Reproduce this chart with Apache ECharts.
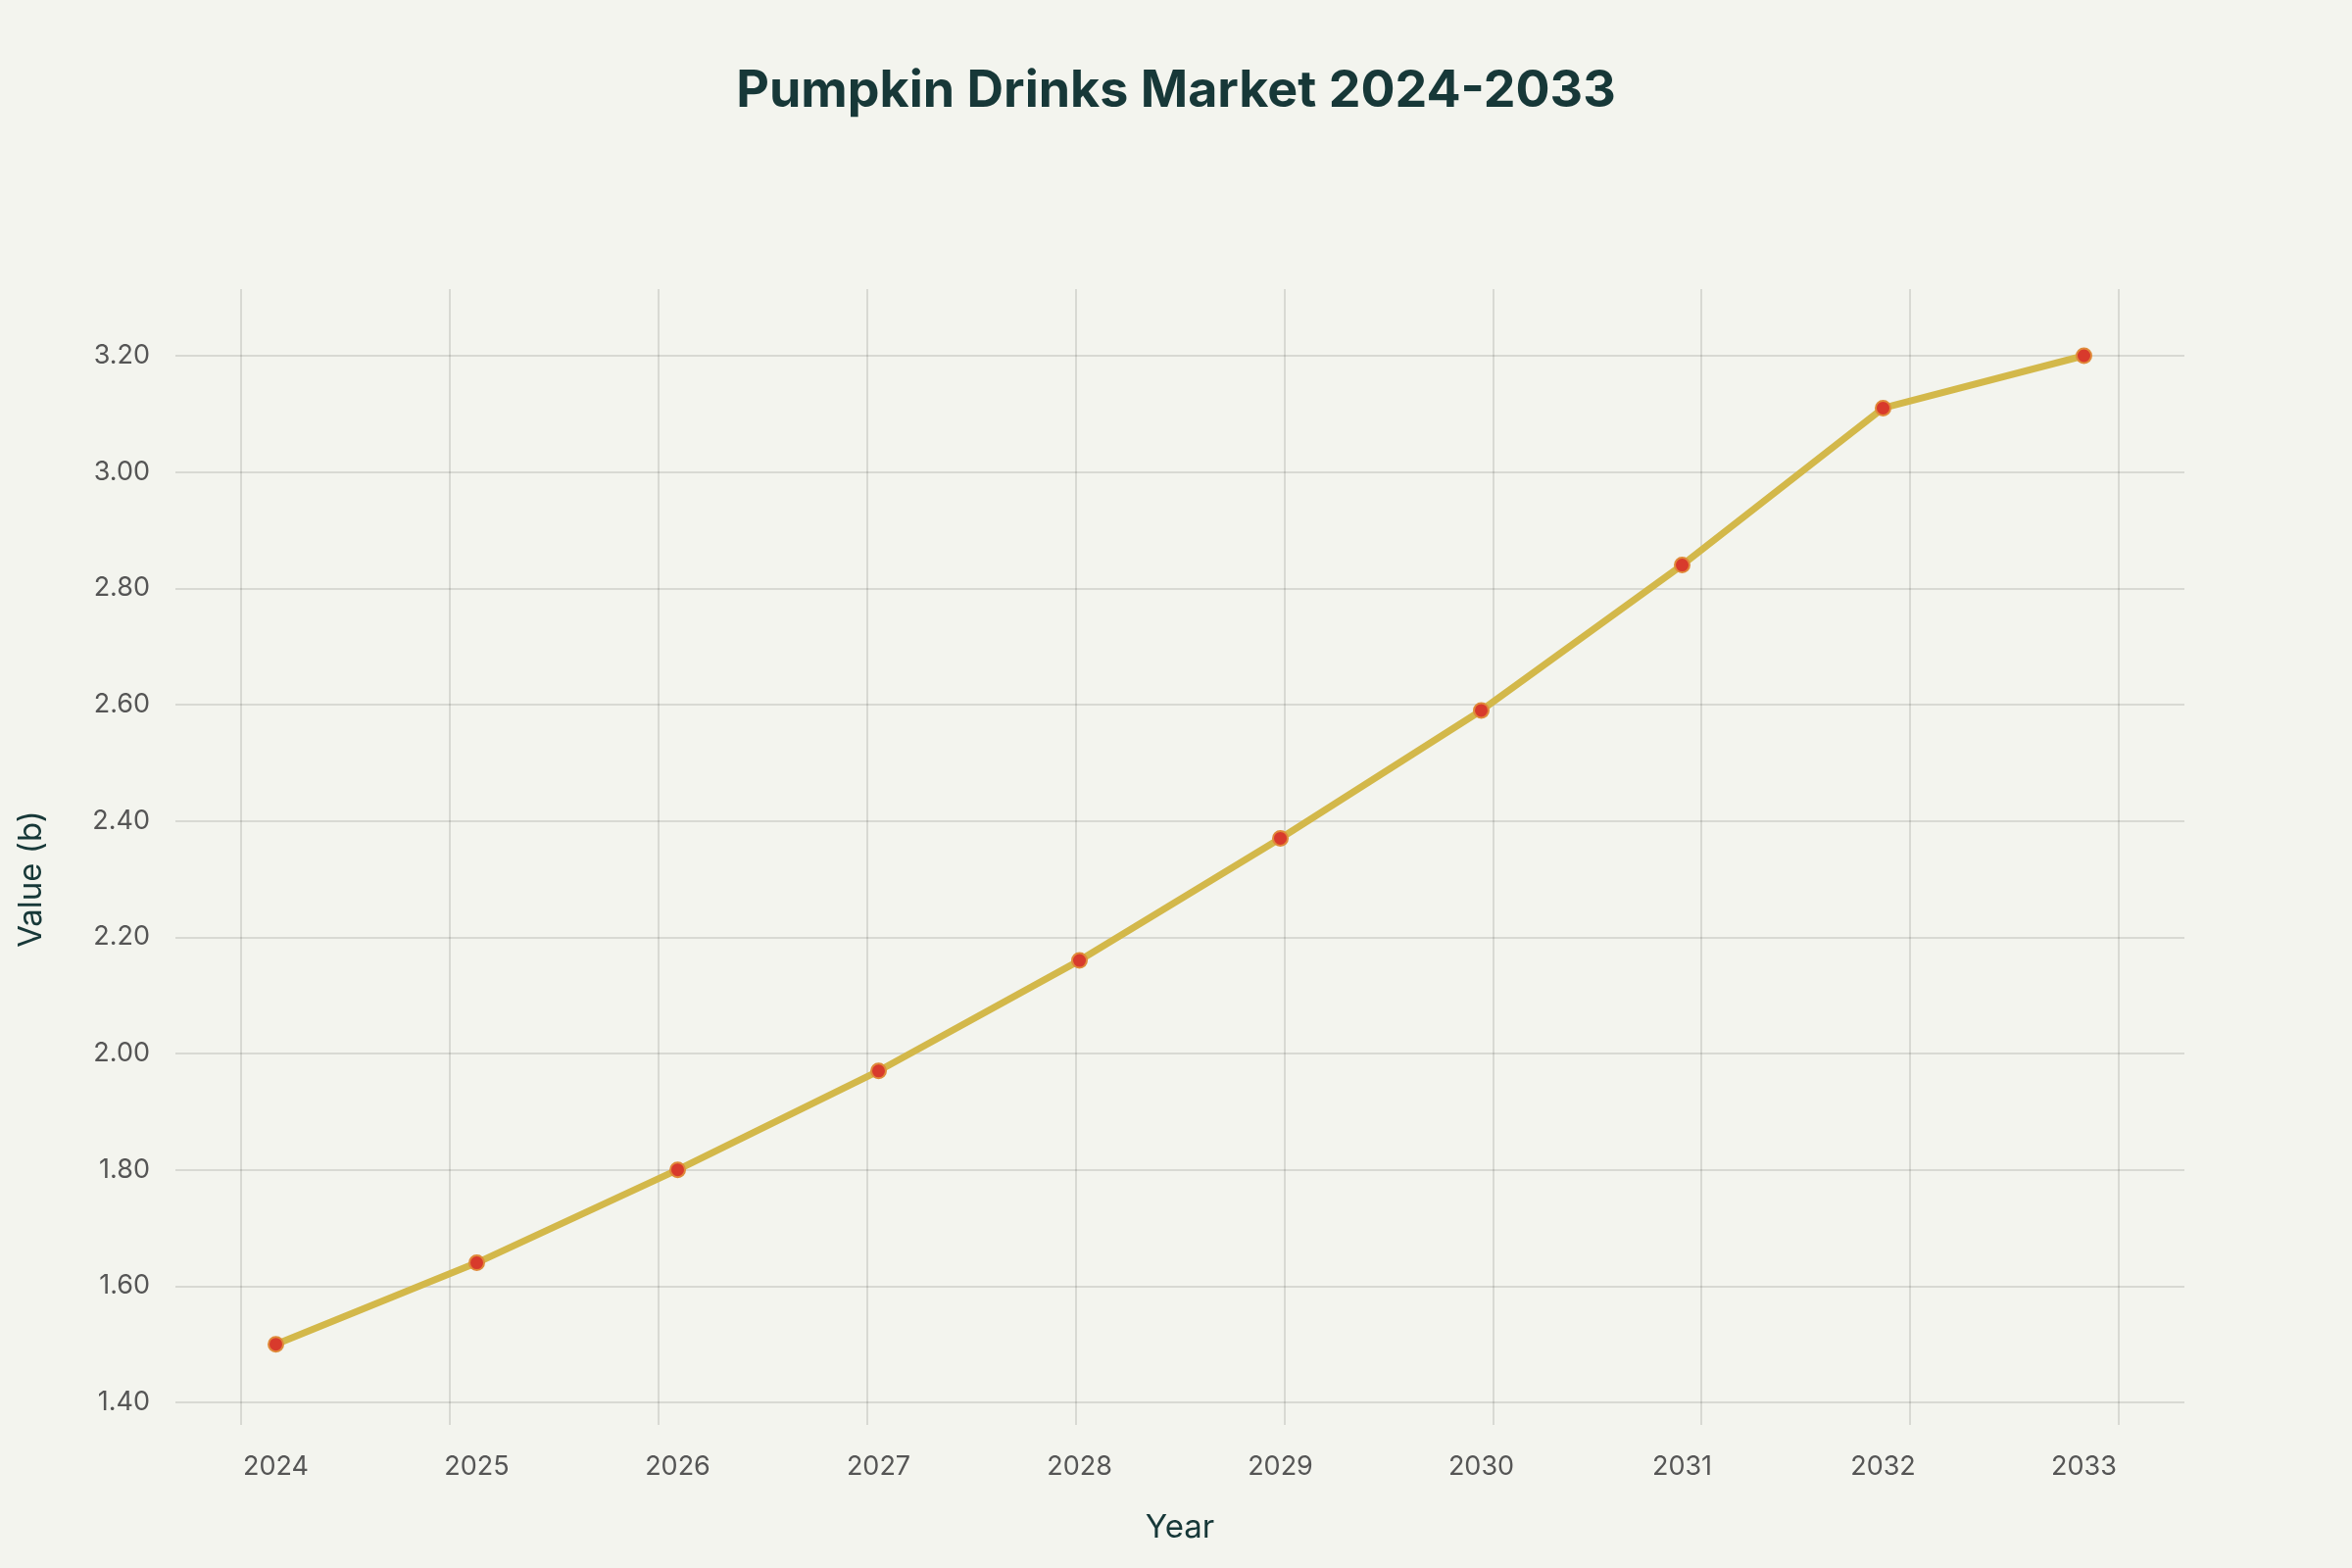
<!DOCTYPE html>
<html>
<head>
<meta charset="utf-8">
<script src="https://cdn.jsdelivr.net/npm/echarts@6/dist/echarts.min.js"></script>
<style>html,body{margin:0;background:#f3f4ee}#c{width:2400px;height:1600px}</style>
</head>
<body>
<div id="c"></div>
<script>
// chart data
const years = ['2024', '2025', '2026', '2027', '2028', '2029', '2030', '2031', '2032', '2033'];
const values = [1.50, 1.64, 1.80, 1.97, 2.16, 2.37, 2.59, 2.84, 3.11, 3.20];

const chart = echarts.init(document.getElementById('c'));
const font = 'Inter, "Noto Sans", sans-serif';
const gridLine = { color: 'rgba(0,0,0,0.15)', width: 1.5 };
chart.setOption({
    backgroundColor: '#f3f4ee',
    title: {
        text: 'Pumpkin Drinks Market 2024-2033',
        left: 'center',
        top: 62,
        textStyle: { fontFamily: font, fontSize: 52, fontWeight: 'bold', color: '#173838' }
    },
    grid: [
        { left: 179, right: 171, top: 363, bottom: 169 },
        // only for the vertical grid lines, which run a bit past the y range
        { left: 246, right: 238, top: 295, bottom: 146 }
    ],
    xAxis: [{
        type: 'category',
        data: years,
        boundaryGap: true,
        name: 'Year',
        nameLocation: 'middle',
        nameGap: 112,
        nameTextStyle: { fontFamily: font, fontSize: 33, color: '#173838' },
        axisLine: { show: false },
        axisTick: { show: false },
        axisLabel: { fontFamily: font, fontSize: 27, color: '#555', margin: 52, interval: 0 },
        splitLine: { show: false }
    }, {
        type: 'category',
        gridIndex: 1,
        data: years,
        boundaryGap: false,
        axisLine: { show: false },
        axisTick: { show: false },
        axisLabel: { show: false },
        splitLine: { show: true, interval: 0, lineStyle: gridLine }
    }],
    yAxis: [{
        type: 'value',
        min: 1.4,
        max: 3.2,
        interval: 0.2,
        name: 'Value (b)',
        nameLocation: 'middle',
        nameGap: 130,
        nameTextStyle: { fontFamily: font, fontSize: 33, color: '#173838' },
        axisLine: { show: false },
        axisTick: { show: false },
        axisLabel: { fontFamily: font, fontSize: 27, color: '#555', margin: 26, formatter: v => v.toFixed(2) },
        splitLine: { lineStyle: gridLine }
    }, {
        type: 'value',
        gridIndex: 1,
        show: false
    }],
    series: [{
        type: 'line',
        data: values,
        symbol: 'circle',
        symbolSize: 15,
        z: 5,
        lineStyle: { color: '#d3b84a', width: 7 },
        itemStyle: { color: '#d83a2c', borderColor: '#e08a3a', borderWidth: 2 }
    }]
});
</script>
</body>
</html>
